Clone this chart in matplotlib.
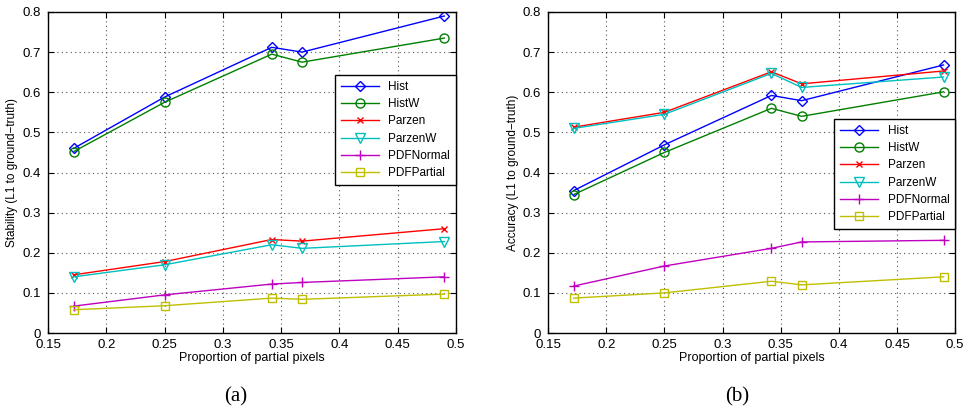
import matplotlib
matplotlib.use("Agg")
import matplotlib.pyplot as plt

plt.rcParams['font.family'] = ['Liberation Sans', 'DejaVu Sans']

# proportions of partial pixels (x)
prop = [0.172, 0.25, 0.342, 0.368, 0.49]
names = ["Hist", "HistW", "Parzen", "ParzenW", "PDFNormal", "PDFPartial"]

# (a) stability
stab_hist = [0.460, 0.588, 0.712, 0.700, 0.790]
stab_histw = [0.452, 0.575, 0.695, 0.675, 0.735]
stab_parzen = [0.145, 0.178, 0.233, 0.229, 0.260]
stab_parzenw = [0.140, 0.170, 0.220, 0.211, 0.228]
stab_pdfnormal = [0.067, 0.095, 0.122, 0.126, 0.140]
stab_pdfpartial = [0.058, 0.068, 0.087, 0.084, 0.097]

# (b) accuracy
acc_hist = [0.355, 0.469, 0.592, 0.579, 0.668]
acc_histw = [0.345, 0.450, 0.560, 0.540, 0.601]
acc_parzen = [0.513, 0.550, 0.651, 0.621, 0.653]
acc_parzenw = [0.510, 0.545, 0.647, 0.612, 0.638]
acc_pdfnormal = [0.117, 0.167, 0.211, 0.227, 0.231]
acc_pdfpartial = [0.087, 0.100, 0.129, 0.120, 0.140]

colors = ["#0000ff", "#008000", "#ff0000", "#00bfbf", "#bf00bf", "#bfbf00"]
markers = ["D", "o", "x", "v", "+", "s"]
msizes = [5.5, 6.5, 4.5, 6.5, 7, 6]

fig = plt.figure(figsize=(9.65, 4.18), dpi=100)
ax1 = fig.add_axes([0.0497, 0.2033, 0.4228, 0.768])
ax2 = fig.add_axes([0.568, 0.2033, 0.4218, 0.768])


def draw(ax, series, ylabel, leg_top):
    for vals, name, c, m, ms in zip(series, names, colors, markers, msizes):
        ax.plot(prop, vals, color=c, marker=m, markersize=ms, linewidth=1,
                markerfacecolor='none', markeredgecolor=c, markeredgewidth=1,
                label=name)
    ax.set_xlim(0.15, 0.5)
    ax.set_ylim(0, 0.8)
    ax.set_xticks([0.15, 0.2, 0.25, 0.3, 0.35, 0.4, 0.45, 0.5])
    ax.set_xticklabels(["0.15", "0.2", "0.25", "0.3", "0.35", "0.4", "0.45", "0.5"])
    ax.set_yticks([0, 0.1, 0.2, 0.3, 0.4, 0.5, 0.6, 0.7, 0.8])
    ax.set_yticklabels(["0", "0.1", "0.2", "0.3", "0.4", "0.5", "0.6", "0.7", "0.8"])
    ax.grid(True, linestyle=(0, (1, 3)), color='#555555', linewidth=0.8)
    ax.tick_params(direction='in', top=True, right=True, labelsize=9.5,
                   length=4, width=0.8)
    ax.tick_params(axis='x', pad=4)
    ax.tick_params(axis='y', pad=5)
    for sp in ax.spines.values():
        sp.set_linewidth(1)
    ax.set_xlabel("Proportion of partial pixels", fontsize=9, labelpad=1)
    ax.set_ylabel(ylabel, fontsize=8.5, labelpad=3)
    leg = ax.legend(loc='upper right', bbox_to_anchor=(1.0, leg_top),
                    fontsize=8.5, fancybox=False, framealpha=1,
                    edgecolor='black', borderaxespad=0, handlelength=3.2,
                    labelspacing=0.45, borderpad=0.5)
    leg.get_frame().set_linewidth(1)


draw(ax1, [stab_hist, stab_histw, stab_parzen, stab_parzenw,
           stab_pdfnormal, stab_pdfpartial],
     "Stability (L1 to ground\u2212truth)", 0.804)
draw(ax2, [acc_hist, acc_histw, acc_parzen, acc_parzenw,
           acc_pdfnormal, acc_pdfpartial],
     "Accuracy (L1 to ground\u2212truth)", 0.667)

fig.text(236 / 965, 1 - 397 / 418, "(a)", ha='center', va='center',
         fontsize=15, family=['Liberation Serif', 'DejaVu Serif'])
fig.text(737 / 965, 1 - 397 / 418, "(b)", ha='center', va='center',
         fontsize=15, family=['Liberation Serif', 'DejaVu Serif'])

fig.savefig("out.png", dpi=100)
